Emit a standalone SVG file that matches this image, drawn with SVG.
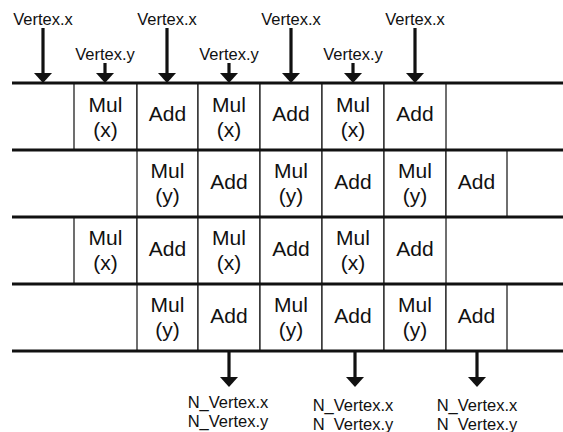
<svg xmlns="http://www.w3.org/2000/svg" width="563" height="432" viewBox="0 0 563 432">
<style>
.cell rect{fill:#fff;stroke:#222;stroke-width:1.3}
.cell text{font-family:"Liberation Sans",Arial,sans-serif;font-size:21px;fill:#111;text-anchor:middle}
.lbl{font-family:"Liberation Sans",Arial,sans-serif;font-size:16.5px;fill:#111;text-anchor:middle}
.bus{stroke:#111;stroke-width:3.2}
.arr{stroke:#111;stroke-width:3.2;fill:none;marker-end:url(#ah)}
</style>
<defs>
<marker id="ah" markerUnits="userSpaceOnUse" markerWidth="10" markerHeight="18" refX="0" refY="9" orient="auto" overflow="visible">
<path d="M0,0 L10,9 L0,18 Z" fill="#111"/>
</marker>
</defs>
<rect width="563" height="432" fill="#fff"/>
<!-- row 1 -->
<g id="r1c1" class="cell"><rect x="74" y="83" width="63" height="67"/><text x="105.5" y="112">Mul</text><text x="105.5" y="137">(x)</text></g>
<g id="r1c2" class="cell"><rect x="137" y="83" width="61" height="67"/><text x="167.5" y="121">Add</text></g>
<g id="r1c3" class="cell"><rect x="198" y="83" width="62" height="67"/><text x="229" y="112">Mul</text><text x="229" y="137">(x)</text></g>
<g id="r1c4" class="cell"><rect x="260" y="83" width="62" height="67"/><text x="291" y="121">Add</text></g>
<g id="r1c5" class="cell"><rect x="322" y="83" width="62" height="67"/><text x="353" y="112">Mul</text><text x="353" y="137">(x)</text></g>
<g id="r1c6" class="cell"><rect x="384" y="83" width="62" height="67"/><text x="415" y="121">Add</text></g>
<!-- row 2 -->
<g id="r2c1" class="cell"><rect x="137" y="150" width="61" height="67"/><text x="167.5" y="178">Mul</text><text x="167.5" y="203">(y)</text></g>
<g id="r2c2" class="cell"><rect x="198" y="150" width="62" height="67"/><text x="229" y="189">Add</text></g>
<g id="r2c3" class="cell"><rect x="260" y="150" width="62" height="67"/><text x="291" y="178">Mul</text><text x="291" y="203">(y)</text></g>
<g id="r2c4" class="cell"><rect x="322" y="150" width="62" height="67"/><text x="353" y="189">Add</text></g>
<g id="r2c5" class="cell"><rect x="384" y="150" width="62" height="67"/><text x="415" y="178">Mul</text><text x="415" y="203">(y)</text></g>
<g id="r2c6" class="cell"><rect x="446" y="150" width="61" height="67"/><text x="476.5" y="189">Add</text></g>
<!-- row 3 -->
<g id="r3c1" class="cell"><rect x="74" y="217" width="63" height="67"/><text x="105.5" y="245">Mul</text><text x="105.5" y="270">(x)</text></g>
<g id="r3c2" class="cell"><rect x="137" y="217" width="61" height="67"/><text x="167.5" y="256">Add</text></g>
<g id="r3c3" class="cell"><rect x="198" y="217" width="62" height="67"/><text x="229" y="245">Mul</text><text x="229" y="270">(x)</text></g>
<g id="r3c4" class="cell"><rect x="260" y="217" width="62" height="67"/><text x="291" y="256">Add</text></g>
<g id="r3c5" class="cell"><rect x="322" y="217" width="62" height="67"/><text x="353" y="245">Mul</text><text x="353" y="270">(x)</text></g>
<g id="r3c6" class="cell"><rect x="384" y="217" width="62" height="67"/><text x="415" y="256">Add</text></g>
<!-- row 4 -->
<g id="r4c1" class="cell"><rect x="137" y="284" width="61" height="67"/><text x="167.5" y="312">Mul</text><text x="167.5" y="337">(y)</text></g>
<g id="r4c2" class="cell"><rect x="198" y="284" width="62" height="67"/><text x="229" y="323">Add</text></g>
<g id="r4c3" class="cell"><rect x="260" y="284" width="62" height="67"/><text x="291" y="312">Mul</text><text x="291" y="337">(y)</text></g>
<g id="r4c4" class="cell"><rect x="322" y="284" width="62" height="67"/><text x="353" y="323">Add</text></g>
<g id="r4c5" class="cell"><rect x="384" y="284" width="62" height="67"/><text x="415" y="312">Mul</text><text x="415" y="337">(y)</text></g>
<g id="r4c6" class="cell"><rect x="446" y="284" width="61" height="67"/><text x="476.5" y="323">Add</text></g>
<!-- bus lines -->
<g id="buses">
<line class="bus" x1="12" y1="83" x2="563" y2="83"/>
<line class="bus" x1="12" y1="150" x2="563" y2="150"/>
<line class="bus" x1="12" y1="217" x2="563" y2="217"/>
<line class="bus" x1="12" y1="284" x2="563" y2="284"/>
<line class="bus" x1="12" y1="351" x2="563" y2="351"/>
</g>
<!-- labels -->
<g id="inputs">
<text class="lbl" x="43" y="25">Vertex.x</text>
<text class="lbl" x="167" y="25">Vertex.x</text>
<text class="lbl" x="291" y="25">Vertex.x</text>
<text class="lbl" x="415" y="25">Vertex.x</text>
<text class="lbl" x="105" y="60">Vertex.y</text>
<text class="lbl" x="229" y="60">Vertex.y</text>
<text class="lbl" x="353" y="60">Vertex.y</text>
</g>
<g id="outputs">
<text class="lbl" x="228" y="408">N_Vertex.x</text>
<text class="lbl" x="228" y="427">N_Vertex.y</text>
<text class="lbl" x="353" y="411">N_Vertex.x</text>
<text class="lbl" x="353" y="430">N_Vertex.y</text>
<text class="lbl" x="477" y="411">N_Vertex.x</text>
<text class="lbl" x="477" y="430">N_Vertex.y</text>
</g>
<!-- connectors -->
<g id="connectors">
<line class="arr" x1="43" y1="28" x2="43" y2="73"/>
<line class="arr" x1="167" y1="28" x2="167" y2="73"/>
<line class="arr" x1="291" y1="28" x2="291" y2="73"/>
<line class="arr" x1="415" y1="28" x2="415" y2="73"/>
<line class="arr" x1="105" y1="63" x2="105" y2="73"/>
<line class="arr" x1="229" y1="63" x2="229" y2="73"/>
<line class="arr" x1="353" y1="63" x2="353" y2="73"/>
<line class="arr" x1="229" y1="351" x2="229" y2="377"/>
<line class="arr" x1="355" y1="351" x2="355" y2="377"/>
<line class="arr" x1="477" y1="351" x2="477" y2="377"/>
</g>
</svg>
